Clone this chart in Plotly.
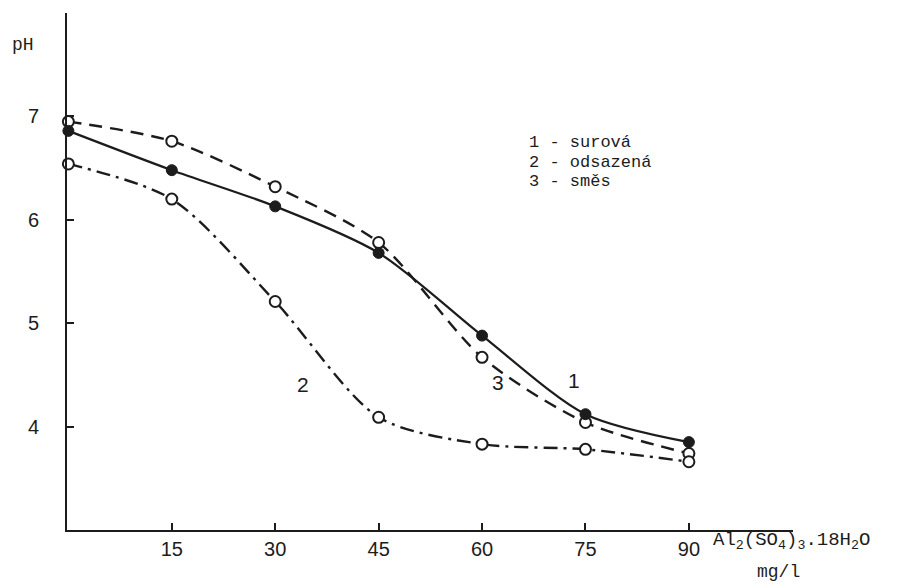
import plotly.graph_objects as go

dose = [0, 15, 30, 45, 60, 75, 90]
ph_surova = [6.86, 6.48, 6.13, 5.68, 4.88, 4.12, 3.85]
ph_odsazena = [6.54, 6.20, 5.21, 4.09, 3.83, 3.78, 3.66]
ph_smes = [6.95, 6.76, 6.32, 5.78, 4.67, 4.04, 3.74]

x_ticks = [15, 30, 45, 60, 75, 90, 105]
x_ticktext = ["15", "30", "45", "60", "75", "90", ""]
y_ticks = [4, 5, 6, 7, 8]
y_ticktext = ["4", "5", "6", "7", ""]

legend_lines = ["1 - surová", "2 - odsazená", "3 - směs"]
curve_labels = [("1", 73.4, 4.45), ("2", 34.0, 4.41), ("3", 62.3, 4.43)]

INK = "#1c1c1c"
MONO = "Liberation Mono, Courier New, monospace"
SANS = "Liberation Sans, Arial, sans-serif"


def px(xp):
    return (xp - 67) / 726


def py(yp):
    return (530 - yp) / 517


fig = go.Figure()

fig.add_trace(go.Scatter(
    x=dose, y=ph_smes, mode="lines+markers", name="3",
    line=dict(color=INK, width=2.4, dash="13px,8px", shape="spline", smoothing=0.8),
    marker=dict(symbol="circle", size=11, color="white", line=dict(color=INK, width=2)),
    cliponaxis=False,
))
fig.add_trace(go.Scatter(
    x=dose, y=ph_odsazena, mode="lines+markers", name="2",
    line=dict(color=INK, width=2.4, dash="14px,6px,3px,6px", shape="spline", smoothing=0.8),
    marker=dict(symbol="circle", size=11, color="white", line=dict(color=INK, width=2)),
    cliponaxis=False,
))
fig.add_trace(go.Scatter(
    x=dose, y=ph_surova, mode="lines+markers", name="1",
    line=dict(color=INK, width=2.2, shape="spline", smoothing=0.8),
    marker=dict(symbol="circle", size=11, color=INK, line=dict(color=INK, width=1)),
    cliponaxis=False,
))

annotations = []
for i, t in enumerate(legend_lines):
    annotations.append(dict(
        xref="paper", yref="paper", x=px(527), y=py(143 + 19.5 * i),
        xanchor="left", yanchor="middle", text=t, showarrow=False,
        font=dict(family=MONO, size=17, color=INK),
    ))
for t, xx, yy in curve_labels:
    annotations.append(dict(
        xref="x", yref="y", x=xx, y=yy, text=t, showarrow=False,
        font=dict(family=SANS, size=21, color=INK),
    ))
annotations.append(dict(
    xref="paper", yref="paper", x=px(10), y=py(45),
    xanchor="left", yanchor="middle", text="pH", showarrow=False,
    font=dict(family=MONO, size=18, color=INK),
))
annotations.append(dict(
    xref="paper", yref="paper", x=px(711), y=py(541),
    xanchor="left", yanchor="middle",
    text="Al<sub>2</sub>(SO<sub>4</sub>)<sub>3</sub>.18H<sub>2</sub>O", showarrow=False,
    font=dict(family=MONO, size=19, color=INK),
))
annotations.append(dict(
    xref="paper", yref="paper", x=px(778), y=py(572),
    xanchor="center", yanchor="middle", text="mg/l", showarrow=False,
    font=dict(family=MONO, size=18, color=INK),
))

fig.update_layout(
    width=903, height=577,
    margin=dict(l=59, r=118, t=5, b=55, autoexpand=False),
    paper_bgcolor="white", plot_bgcolor="white",
    showlegend=False,
    annotations=annotations,
    xaxis=dict(
        range=[-0.2, 105.1], showgrid=False, zeroline=False, automargin=False,
        showline=True, linecolor=INK, linewidth=1.6,
        tickmode="array", tickvals=x_ticks, ticktext=x_ticktext,
        ticks="inside", ticklen=7, tickwidth=1.5, tickcolor=INK,
        tickfont=dict(family=SANS, size=20, color=INK),
    ),
    yaxis=dict(
        range=[3, 8], showgrid=False, zeroline=False, automargin=False,
        showline=True, linecolor=INK, linewidth=1.6,
        tickmode="array", tickvals=y_ticks, ticktext=y_ticktext,
        ticks="inside", ticklen=7, tickwidth=1.5, tickcolor=INK,
        ticklabelstandoff=22,
        tickfont=dict(family=SANS, size=20, color=INK),
    ),
)

fig.write_html("out.html")
